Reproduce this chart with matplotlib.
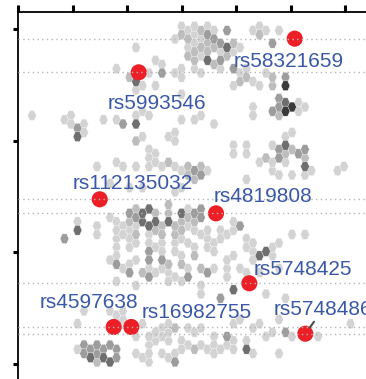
import numpy as np
import matplotlib
matplotlib.use("Agg")
import matplotlib.pyplot as plt

# Background density cells: x, y and shade level (1 = sparse ... 5 = dense)
cell_x = [
    # upper band
    17.54, 14.72, 16.77, 19.58, 18.05, 19.34, 21.12, 21.12, 22.42, 21.89, 23.69, 23.95,
    25.49, 25.49, 24.97, 24.97, 26.26, 24.72, 17.80,
    25.74, 26.77, 25.74, 27.28, 25.74, 26.51, 27.80, 28.82, 29.08, 28.82, 29.85, 30.35,
    30.62, 31.12, 31.89, 31.89, 32.42, 32.92, 32.92, 31.38, 33.43, 33.69, 35.49, 35.74,
    37.03, 37.03, 37.80, 38.57, 40.11, 38.05, 38.57, 39.34, 39.85, 40.62, 40.62, 40.88,
    40.62, 41.54, 40.11, 42.92, 44.46, 36.00, 36.26, 28.31, 30.35, 40.62, 42.15,
    26.0, 27.0, 28.0, 29.0, 30.0, 27.0, 28.0, 28.0, 29.0, 30.0, 31.0, 32.0, 33.0, 34.0,
    29.0, 30.0, 31.0, 27.0, 28.0, 33.0, 34.0, 35.0, 36.0, 37.0,
    # upper-middle band
    33.43, 34.72, 33.43, 34.72, 37.80, 39.08, 40.62, 39.85, 41.65, 41.12, 42.92, 43.69,
    44.20, 44.20, 38.57, 36.51, 49.85, 26.00, 27.28, 27.80, 25.74,
    28.42, 30.46, 35.85, 39.43, 40.46, 41.49, 43.03, 44.31, 39.69, 40.72, 42.00, 37.89,
    39.18, 40.72, 40.20, 41.49, 43.54, 43.03, 44.31, 43.80, 45.08, 38.66, 41.49, 39.95,
    42.00, 34.82, 49.43, 50.20, 27.65, 28.15, 28.92, 27.12,
    # left-middle band
    2.15, 6.51, 7.80, 7.54, 9.34, 10.11, 10.35, 9.34, 13.18, 14.72, 16.00, 17.54, 17.54,
    18.82, 19.58, 17.54, 18.05, 20.35, 20.88, 19.58, 23.43, 24.20, 23.95, 25.49, 26.51,
    18.31, 19.85, 21.38, 21.89, 23.18, 24.46, 25.49, 12.15, 15.23, 16.26, 13.69, 18.62,
    23.74,
    # central cloud
    7.28, 8.82, 9.49, 11.74, 11.74, 12.42, 13.85, 15.23, 14.72, 15.23, 15.23, 16.77,
    16.77, 16.51, 17.28, 16.77, 18.05, 18.31, 17.80, 18.31, 18.05, 19.58, 19.08, 19.08,
    19.85, 19.58, 20.35, 20.88, 21.12, 20.35, 21.12, 21.89, 21.89, 21.89, 22.66, 23.43,
    23.43, 23.69, 23.69, 23.43, 24.72, 24.97, 24.97, 25.23, 25.23, 26.00, 26.26, 26.00,
    26.00, 13.95, 14.72, 16.26, 19.34, 19.58, 18.05, 22.92,
    15.54, 15.03, 19.65, 21.18, 17.08, 18.62, 14.00, 17.58, 21.69, 16.82, 15.03, 23.74,
    27.12, 28.42, 27.38, 28.42, 27.12, 29.18, 28.66, 26.88, 27.65, 28.92, 29.69, 30.72,
    32.00, 33.03, 33.03, 34.31, 34.57, 34.57, 36.35, 37.12, 38.42, 38.66, 39.43, 40.46,
    42.00, 43.54, 35.58, 31.74, 32.66, 39.69,
    16.0, 17.0, 20.0, 22.0, 22.0, 24.0, 25.0, 20.0, 21.0, 18.0, 17.0, 20.0, 22.0, 24.0,
    24.0, 26.0, 27.0, 28.0, 29.0, 30.0, 31.0, 30.0, 32.0, 33.0, 35.0, 36.0, 34.0, 35.0,
    25.0, 23.0, 21.0,
    # lower band
    10.15, 14.00, 16.31, 17.58, 8.88, 10.15, 12.46, 13.49, 15.03, 10.42, 11.95, 13.23,
    9.34, 10.35, 14.72, 16.00, 18.82, 21.89, 17.54, 8.82, 10.11, 11.12, 12.15, 13.18,
    14.20, 14.97, 17.54, 10.62, 11.65, 12.92, 13.69, 14.72, 20.35, 21.89, 23.18, 23.43,
    23.43, 24.97, 24.46, 22.42, 21.38, 19.85, 24.20, 26.26, 26.26,
    27.12, 28.42, 27.65, 28.66, 27.12, 29.69, 30.20, 31.74, 31.74, 32.77, 33.28, 34.57,
    34.82, 36.11, 33.28, 34.31, 35.85, 37.38, 37.38, 37.65, 38.66, 40.20, 41.49, 42.26,
    45.58, 50.72, 31.23, 40.11, 40.62, 26.26, 27.54, 16.77, 19.34, 23.95, 25.49, 37.38,
    37.80, 31.89, 27.65,
    20.0, 21.0, 22.0, 23.0, 24.0, 25.0, 26.0, 19.0, 20.0, 29.0, 30.0, 31.0, 32.0,
]
cell_y = [
    39.26, 36.70, 35.92, 35.92, 34.74, 34.74, 34.74, 37.09, 37.09, 36.32, 35.92, 40.04,
    41.21, 40.04, 36.90, 35.33, 38.86, 33.96, 33.76,
    41.45, 40.86, 39.88, 39.29, 38.12, 37.53, 40.27, 40.67, 39.49, 37.73, 39.88, 38.71,
    37.73, 39.68, 40.67, 39.09, 37.53, 39.49, 36.35, 36.35, 34.00, 35.18, 35.56, 40.86,
    40.27, 41.26, 40.67, 39.88, 40.67, 36.35, 34.39, 35.18, 33.41, 35.38, 34.39, 34.00,
    32.82, 32.04, 31.65, 32.04, 32.04, 32.04, 31.06, 30.67, 29.88, 28.91, 28.71,
    41.0, 41.5, 41.0, 41.5, 41.0, 38.5, 39.0, 38.0, 38.5, 40.0, 38.5, 38.0, 38.5, 39.0,
    37.5, 37.0, 37.5, 36.5, 36.0, 36.5, 36.0, 36.5, 35.0, 34.5,
    27.33, 27.33, 26.15, 26.15, 26.15, 27.33, 27.33, 26.55, 26.55, 25.38, 26.55, 26.94,
    25.38, 24.20, 24.98, 25.38, 25.38, 24.98, 24.20, 24.98, 23.80,
    30.59, 30.00, 31.76, 31.96, 31.56, 31.76, 31.76, 31.76, 30.79, 28.44, 28.62, 26.08,
    27.26, 27.45, 26.47, 26.47, 27.45, 26.47, 25.29, 26.08, 24.71, 25.09, 25.29, 24.12,
    23.73, 23.73, 24.71, 25.29, 24.71, 24.12, 24.71, 23.33,
    30.59, 30.79, 30.79, 29.81, 29.41, 30.00, 28.62, 28.24, 30.00, 30.98, 29.81, 30.98,
    29.81, 31.38, 30.59, 28.44, 27.85, 27.45, 26.67, 26.27, 28.62, 29.21, 28.04, 30.79,
    30.39, 25.29, 24.71, 25.68, 24.51, 25.09, 24.51, 24.51, 25.09, 25.09, 24.51, 23.33,
    28.90, 27.92,
    16.82, 18.20, 17.61, 18.20, 16.82, 17.61, 18.79, 18.98, 16.82, 15.65, 14.67, 19.96,
    18.79, 17.61, 16.44, 15.26, 19.96, 18.98, 17.80, 16.82, 15.65, 19.96, 18.98, 18.00,
    17.02, 15.06, 14.27, 19.76, 18.79, 18.00, 17.21, 18.00, 16.04, 14.27, 19.18, 20.74,
    18.00, 16.82, 15.65, 13.29, 19.56, 18.39, 17.21, 16.04, 13.49, 20.35, 18.79, 17.61,
    11.92, 13.68, 13.09, 13.09, 12.91, 12.12, 11.14, 12.91,
    18.32, 17.14, 15.18, 18.71, 19.88, 19.49, 14.00, 14.00, 14.00, 12.62, 11.85, 12.44,
    19.96, 19.96, 18.79, 18.79, 17.61, 16.44, 15.26, 14.47, 13.09, 12.12, 12.71, 17.61,
    16.82, 17.21, 18.39, 17.80, 16.44, 15.26, 15.45, 14.67, 14.86, 14.08, 15.45, 16.44,
    16.82, 17.02, 13.88, 12.91, 10.15, 12.51,
    17.0, 17.5, 17.0, 17.0, 15.0, 15.0, 14.5, 16.0, 15.5, 14.0, 13.5, 13.0, 13.0, 17.0,
    18.0, 16.0, 15.5, 17.0, 17.5, 16.0, 16.5, 15.0, 14.0, 14.5, 15.5, 16.0, 13.0, 12.5,
    11.5, 11.5, 12.5,
    7.53, 8.32, 7.14, 4.98, 3.80, 3.80, 3.41, 3.80, 3.02, 2.82, 2.44, 2.44,
    6.98, 7.76, 7.76, 7.76, 6.79, 6.39, 4.82, 3.65, 3.65, 3.26, 3.65, 3.26,
    3.65, 3.26, 3.45, 2.67, 2.67, 2.67, 2.27, 2.67, 2.47, 3.45, 2.86, 4.04,
    5.21, 4.82, 5.61, 4.82, 4.44, 4.44, 2.27, 6.00, 3.65,
    5.21, 6.00, 4.44, 3.65, 3.06, 5.21, 4.04, 5.21, 4.24, 4.44, 3.65, 4.04,
    3.45, 2.86, 6.00, 6.79, 6.39, 6.79, 6.00, 4.82, 5.80, 3.26, 5.80, 5.21,
    5.21, 6.20, 9.92, 6.55, 9.09, 12.82, 10.86, 22.24, 22.24, 22.24, 22.24, 12.82,
    10.47, 12.44, 9.92,
    5.0, 5.5, 6.0, 6.5, 3.0, 3.5, 4.0, 2.5, 3.0, 3.5, 3.0, 3.5, 5.0,
]
cell_level = [
    1, 1, 2, 1, 4, 1, 1, 1, 1, 3, 1, 1,
    1, 2, 1, 1, 1, 1, 1,
    1, 1, 2, 1, 2, 2, 1, 3, 2, 4, 3, 2,
    3, 3, 3, 4, 2, 2, 3, 1, 1, 2, 2, 1,
    2, 1, 1, 3, 1, 1, 2, 2, 3, 3, 4, 5,
    4, 5, 2, 1, 1, 1, 1, 1, 1, 1, 1,
    1, 1, 2, 1, 1, 2, 2, 1, 2, 2, 1, 2, 1, 1,
    1, 2, 2, 1, 1, 1, 1, 1, 1, 1,
    1, 1, 1, 1, 2, 1, 4, 3, 2, 1, 3, 1,
    4, 1, 1, 1, 1, 2, 3, 2, 2,
    1, 1, 1, 3, 3, 5, 1, 1, 2, 1, 1, 1,
    1, 4, 3, 2, 3, 3, 4, 2, 1, 1, 1, 1,
    1, 1, 1, 1, 2, 3, 1, 2,
    1, 1, 1, 1, 3, 1, 1, 4, 1, 1, 3, 1,
    4, 1, 1, 2, 1, 1, 1, 1, 1, 1, 1, 1,
    1, 1, 1, 1, 1, 2, 1, 1, 1, 1, 1, 1,
    1, 1,
    3, 1, 4, 1, 1, 1, 1, 1, 1, 1, 1, 2,
    2, 1, 1, 1, 2, 3, 1, 2, 1, 4, 3, 4,
    1, 3, 3, 2, 4, 4, 2, 2, 1, 3, 2, 2,
    4, 2, 1, 2, 4, 2, 2, 1, 2, 1, 2, 1,
    3, 1, 3, 1, 2, 3, 1, 1,
    1, 1, 3, 4, 3, 4, 1, 1, 1, 3, 1, 1,
    3, 3, 2, 3, 1, 1, 1, 2, 2, 3, 1, 1,
    1, 1, 1, 3, 1, 1, 1, 4, 4, 1, 1, 1,
    1, 1, 1, 1, 4, 1,
    1, 1, 1, 2, 1, 1, 1, 1, 1, 1, 1, 1, 1, 1,
    2, 1, 1, 1, 1, 1, 1, 1, 1, 1, 1, 1, 1, 1,
    1, 1, 1,
    1, 1, 1, 1, 1, 3, 3, 3, 3, 3, 2, 4,
    1, 1, 1, 1, 1, 1, 1, 1, 3, 3, 3, 3,
    3, 2, 1, 4, 3, 3, 4, 3, 1, 1, 1, 1,
    1, 1, 2, 1, 1, 1, 3, 1, 1,
    1, 1, 1, 1, 2, 1, 1, 3, 1, 1, 1, 1,
    4, 1, 1, 1, 1, 1, 1, 1, 1, 1, 3, 1,
    1, 1, 3, 1, 1, 1, 1, 1, 1, 1, 1, 1,
    1, 1, 1,
    1, 1, 1, 1, 1, 1, 1, 1, 1, 1, 1, 1, 1,
]

# Highlighted variants
snp_ids = ["rs58321659", "rs5993546", "rs112135032", "rs4819808",
           "rs5748425", "rs4597638", "rs16982755", "rs5748486"]
snp_x = [42.42, 18.42, 12.42, 30.31, 35.43, 14.57, 17.28, 44.05]
snp_y = [40.04, 36.08, 21.14, 19.49, 11.26, 6.12, 6.12, 5.33]
label_x = [33.03, 13.58, 8.31, 30.00, 36.11, 3.18, 18.92, 39.18]
label_y = [36.76, 31.82, 22.35, 20.82, 12.29, 8.41, 7.18, 7.53]
leader = [False, False, False, False, False, False, False, True]

shade_colors = {1: "#d3d3d3", 2: "#bdbdbd", 3: "#9d9d9d", 4: "#6f6f6f", 5: "#3a3a3a"}


def hex_bin(x, y, level):
    """Snap values onto a flat-topped hexagonal lattice, keeping the densest shade per cell."""
    x = np.asarray(x, float)
    y = np.asarray(y, float)
    col = np.rint(x).astype(int)
    shift = (col % 2) * 0.5
    row = np.rint(y - shift) + shift
    cells = {}
    for c, r, l in zip(col, row, level):
        cells[(c, r)] = max(cells.get((c, r), 0), l)
    keys = sorted(cells, key=lambda k: cells[k])
    cx = np.array([k[0] for k in keys], float)
    cy = np.array([k[1] for k in keys], float)
    cl = [cells[k] for k in keys]
    return cx, cy, cl


W, H = 366, 379
fig = plt.figure(figsize=(W / 100, H / 100), dpi=100)
fig.patch.set_facecolor("white")
ax = fig.add_axes([18 / W, -21 / H, 382 / W, 388 / H])
ax.set_xlim(-1 / 6.5, 381 / 6.5)
ax.set_ylim(-21 / 8.5, 367 / 8.5)

hx, hy, hl = hex_bin(cell_x, cell_y, cell_level)
hh = 1.1
hex_marker = [(1, 0), (0.5, hh), (-0.5, hh), (-1, 0), (-0.5, -hh), (0.5, -hh), (1, 0)]
ax.scatter(hx, hy, s=50, marker=hex_marker, c=[shade_colors[l] for l in hl],
           edgecolors="white", linewidths=0.3, zorder=2)

for yv in sorted(set(snp_y)):
    ax.axhline(yv, color="#b5b5b5", lw=1.0, linestyle=(0, (1, 2.4)), zorder=4)

ax.scatter(snp_x, snp_y, s=135, color="#ec1f26", edgecolors="none", zorder=3)

for name, px, py, tx, ty, seg in zip(snp_ids, snp_x, snp_y, label_x, label_y, leader):
    arrow = dict(arrowstyle="-", color="#4a4a4a", lw=1.5, shrinkA=0, shrinkB=5.5) if seg else None
    ax.annotate(name, xy=(px, py), xytext=(tx, ty), ha="left", va="baseline",
                fontsize=15, color="#3a58a8", family=["Liberation Sans", "DejaVu Sans"],
                arrowprops=arrow, zorder=5, annotation_clip=False)

xt = (-1 + 54.5 * np.arange(7)) / 6.5
yt = (379 - np.array([364.0, 252.0, 141.0, 29.0])) / 8.5
ax.xaxis.tick_top()
ax.set_xticks(xt)
ax.set_yticks(yt)
ax.set_xticklabels([])
ax.set_yticklabels([])
ax.tick_params(axis="x", direction="out", length=5, width=2.2, color="black",
               top=True, bottom=False)
ax.tick_params(axis="y", direction="out", length=3.3, width=2.2, color="black")
for side in ("right", "bottom"):
    ax.spines[side].set_visible(False)
for side in ("top", "left"):
    ax.spines[side].set_linewidth(1.3)

fig.savefig("out.png", dpi=100)
